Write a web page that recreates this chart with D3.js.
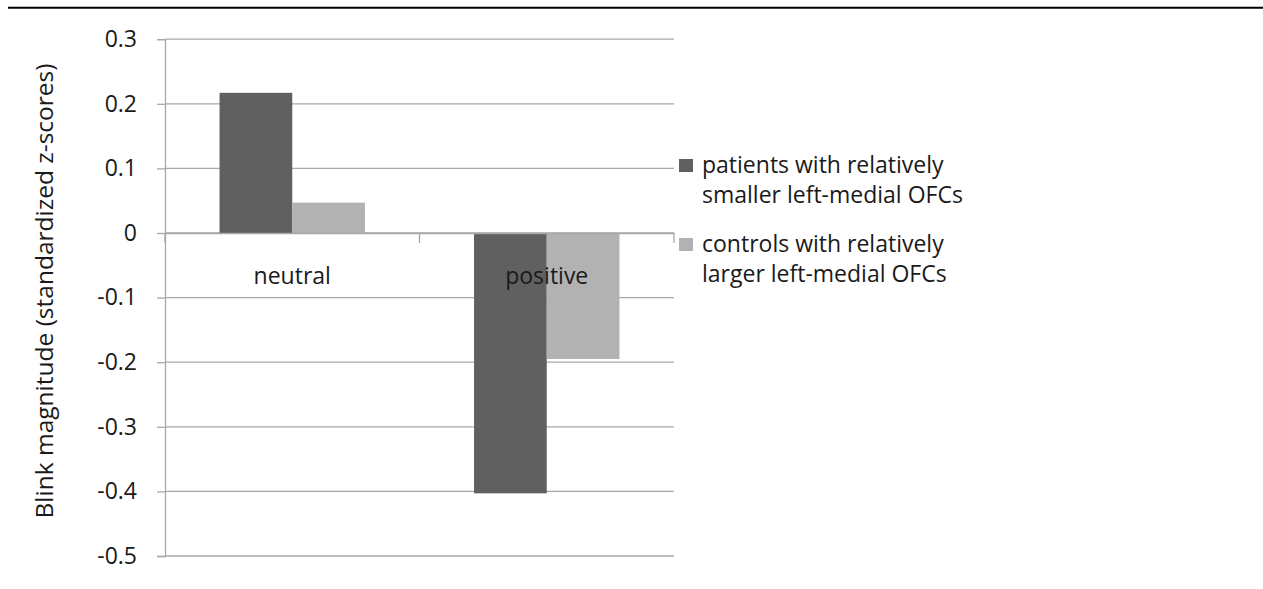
<!DOCTYPE html>
<html>
<head>
<meta charset="utf-8">
<script src="https://cdn.jsdelivr.net/npm/d3@7"></script>
<style>
  html, body { margin: 0; padding: 0; background: #fff; }
  svg { display: block; font-family: "Open Sans", "Noto Sans", sans-serif; }
</style>
</head>
<body>
<svg id="chart" width="1263" height="589"></svg>
<script>
// Blink magnitude by picture valence and group
const categories = ["neutral", "positive"];
const seriesNames = [
  ["patients with relatively", "smaller left-medial OFCs"],
  ["controls with relatively", "larger left-medial OFCs"]
];
const patientsValues = [0.217, -0.403];
const controlsValues = [0.047, -0.195];
const yTicks = [0.3, 0.2, 0.1, 0, -0.1, -0.2, -0.3, -0.4, -0.5];
const seriesColors = ["#606060", "#b2b2b2"];

const svg = d3.select("#chart");
const W = 1263;
const FS = 23;
const textColor = "#1a1a1a";

const plot = { left: 165, right: 674, top: 39.2, bottom: 556 };

// horizontal rule across the top of the figure
svg.append("line")
  .attr("x1", 8).attr("x2", W).attr("y1", 7.7).attr("y2", 7.7)
  .attr("stroke", "#000").attr("stroke-width", 2);

const y = d3.scaleLinear().domain([-0.5, 0.3]).range([plot.bottom, plot.top]);
const x0 = d3.scaleBand().domain(categories).range([plot.left, plot.right]);
// bar width = band / 3.5 (gap of 150% of a bar)
const x1 = d3.scaleBand().domain([0, 1])
  .range([0, x0.bandwidth()])
  .paddingOuter(0.75).paddingInner(0);

const gridColor = "#a8a8a8";

// gridlines
svg.append("g").selectAll("line").data(yTicks).join("line")
  .attr("x1", plot.left).attr("x2", plot.right)
  .attr("y1", d => y(d)).attr("y2", d => y(d))
  .attr("stroke", gridColor).attr("stroke-width", 1.3);

// y axis (hyphen-minus for negative labels)
const fmt = d => d === 0 ? "0" : d3.format(".1f")(d).replace("\u2212", "-");
const yAxis = d3.axisLeft(y).tickValues(yTicks).tickSize(8).tickPadding(20).tickFormat(fmt);
const gy = svg.append("g").attr("transform", `translate(${plot.left},0)`).call(yAxis);
gy.attr("font-family", null).attr("font-size", null);
gy.select(".domain").attr("stroke", gridColor).attr("stroke-width", 1.3);
gy.selectAll(".tick line").attr("stroke", gridColor).attr("stroke-width", 1.3);
gy.selectAll(".tick text").attr("font-size", FS).attr("fill", textColor);

// bars
const data = categories.map((c, i) => ({ cat: c, vals: [patientsValues[i], controlsValues[i]] }));
const groups = svg.append("g").selectAll("g").data(data).join("g")
  .attr("transform", d => `translate(${x0(d.cat)},0)`);
groups.selectAll("rect").data(d => d.vals.map((v, k) => ({ v, k }))).join("rect")
  .attr("x", d => x1(d.k))
  .attr("width", x1.bandwidth())
  .attr("y", d => y(Math.max(0, d.v)))
  .attr("height", d => Math.abs(y(d.v) - y(0)))
  .attr("fill", d => seriesColors[d.k]);

// category axis along zero
const xAxis = d3.axisBottom(x0).tickSize(0).tickFormat("");
const gx = svg.append("g").attr("transform", `translate(0,${y(0)})`).call(xAxis);
gx.select(".domain").attr("stroke", gridColor).attr("stroke-width", 1.3);
// boundary ticks between categories
const bounds = [plot.left, x0("positive"), plot.right];
gx.selectAll(".bound").data(bounds).join("line").attr("class", "bound")
  .attr("x1", d => d).attr("x2", d => d).attr("y1", 0).attr("y2", 10)
  .attr("stroke", gridColor).attr("stroke-width", 1.3);

// category labels
svg.append("g").selectAll("text").data(categories).join("text")
  .attr("x", d => x0(d) + x0.bandwidth() / 2)
  .attr("y", y(0) + 51)
  .attr("text-anchor", "middle")
  .attr("font-size", FS).attr("fill", textColor)
  .text(d => d);

// y axis title
svg.append("text")
  .attr("transform", `translate(53,291) rotate(-90)`)
  .attr("text-anchor", "middle")
  .attr("font-size", 24.5).attr("fill", textColor)
  .text("Blink magnitude (standardized z-scores)");

// legend
const legend = svg.append("g").attr("transform", "translate(679,159)");
const items = legend.selectAll("g").data(seriesNames).join("g")
  .attr("transform", (d, i) => `translate(0,${i * 79})`);
items.append("rect").attr("width", 14).attr("height", 13)
  .attr("fill", (d, i) => seriesColors[i]);
items.append("text")
  .attr("x", 23).attr("y", 14)
  .attr("font-size", FS).attr("fill", textColor)
  .selectAll("tspan").data(d => d).join("tspan")
  .attr("x", 23).attr("dy", (d, i) => i === 0 ? 0 : 30)
  .text(d => d);
</script>
</body>
</html>
